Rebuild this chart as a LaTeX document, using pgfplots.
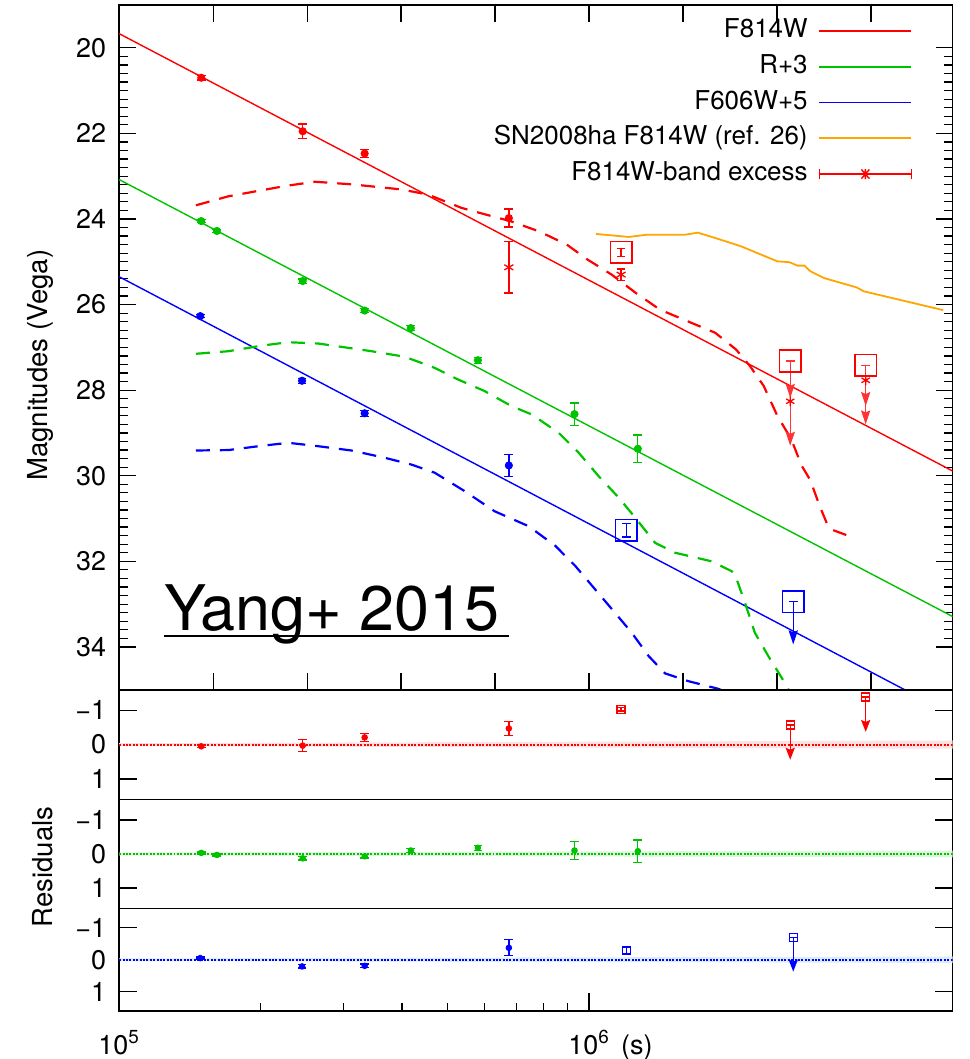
\documentclass[border=0pt]{standalone}
\usepackage{fontspec}
\setmainfont{TeX Gyre Heros}
\usepackage{pgfplots}
\pgfplotsset{compat=1.18}
\usetikzlibrary{arrows.meta}
\definecolor{cred}{RGB}{255,0,0}
\definecolor{cgreen}{RGB}{0,195,0}
\definecolor{cblue}{RGB}{0,0,255}
\definecolor{corange}{RGB}{255,165,0}
\definecolor{cpink}{RGB}{255,225,225}
\definecolor{clgreen}{RGB}{222,245,222}
\definecolor{clblue}{RGB}{220,238,248}
\pgfplotsset{
  dat/.style={only marks, mark=*, mark size=#1, line width=0.65pt,
    error bars/y dir=both, error bars/y explicit,
    error bars/error mark options={rotate=90, mark size=2.2pt, line width=0.65pt},
    error bars/error bar style={line width=0.65pt}},
  ulim/.style={only marks, mark=-, mark size=2.2pt, line width=0.7pt,
    error bars/y dir=plus, error bars/y explicit, error bars/error mark=none,
    error bars/error bar style={line width=0.7pt, -{Stealth[length=#1,width=4.6pt,inset=1pt]}}},
}
\begin{document}
\begin{tikzpicture}
% ================= MAIN PANEL =================
\begin{axis}[
  scale only axis, xmode=log, xmin=1e5, xmax=5.94e6, width=417.5pt,
  /pgf/number format/assume math mode=true,
  tick align=inside,
  tick style={black, line width=0.6pt},
  axis line style={line width=0.8pt},
  tick label style={font=\fontsize{13.5}{16}\selectfont},
  yticklabel style={xshift=-3pt},
  major tick length=8.5pt, minor tick length=4.2pt,
  y dir=reverse,
  at={(59.7pt,-2.5pt)}, anchor=north west, height=343pt,
  ymin=19, ymax=35,
  ytick={20,22,...,34}, minor y tick num=9,
  xtick pos=both, ytick pos=both, yticklabel pos=left,
  xticklabels={},
  ylabel={Magnitudes (Vega)},
  ylabel style={at={(axis description cs:-0.095,0.474)}, anchor=center, font=\fontsize{13.8}{16}\selectfont},
  legend cell align=right, legend plot pos=right,
  legend image code/.code={\draw[#1] (0pt,0pt) -- (46pt,0pt);},
  legend style={at={(axis description cs:0.952,0.985)}, anchor=north east,
    draw=none, fill=none, inner sep=0pt,
    font=\fontsize{13}{15}\selectfont,
    nodes={inner sep=1.5pt, text height=9.5pt, text depth=3pt},
    row sep=2.4pt, column sep=4pt},
]
% fit lines
\addplot[cred, line width=0.7pt, forget plot] coordinates {(1e5,19.67) (5.94e6,29.89)};
\addplot[cgreen, line width=0.7pt, forget plot] coordinates {(1e5,23.08) (5.94e6,33.29)};
\addplot[cblue, line width=0.7pt, forget plot] coordinates {(1e5,25.35) (5.94e6,35.59)};
% SN2008ha
\addplot[corange, line width=0.9pt, forget plot] table {
t m
1.035e6 24.35
1.216e6 24.42
1.323e6 24.37
1.594e6 24.37
1.705e6 24.32
1.888e6 24.47
2.108e6 24.64
2.516e6 24.99
2.670e6 25.01
2.776e6 25.09
2.873e6 25.09
2.956e6 25.22
3.162e6 25.38
3.713e6 25.60
3.842e6 25.69
5.670e6 26.13
};
% model curves (dashed)
\addplot[cred, line width=1.1pt, dash pattern=on 7pt off 5pt, forget plot] table {
t m
1.457e5 23.68
1.708e5 23.47
2.254e5 23.23
2.61e5 23.13
3.12e5 23.19
3.99e5 23.31
4.54e5 23.43
5.35e5 23.74
6.09e5 23.91
6.8e5 24.05
7.83e5 24.29
8.97e5 24.60
9.93e5 24.95
1.117e6 25.30
1.258e6 25.73
1.416e6 26.12
1.621e6 26.39
1.856e6 26.66
2.055e6 27.05
2.198e6 27.43
2.353e6 27.90
2.516e6 28.60
2.692e6 29.14
2.833e6 29.76
2.956e6 30.10
3.097e6 30.71
3.226e6 31.18
3.305e6 31.27
3.616e6 31.43
};
\addplot[cgreen, line width=1.1pt, dash pattern=on 7pt off 5pt, forget plot] table {
t m
1.457e5 27.15
1.708e5 27.09
2.01e5 26.96
2.29e5 26.88
2.653e5 26.91
3.443e5 27.09
4.055e5 27.22
4.694e5 27.48
5.26e5 27.75
5.99e5 28.02
6.83e5 28.37
7.56e5 28.57
8.62e5 29.00
9.50e5 29.46
1.048e6 30.01
1.156e6 30.51
1.254e6 30.98
1.383e6 31.57
1.525e6 31.80
1.823e6 32.00
2.011e6 32.23
2.045e6 32.31
2.147e6 32.97
2.254e6 33.67
2.406e6 34.21
2.61e6 34.84
2.75e6 35.3
};
\addplot[cblue, line width=1.1pt, dash pattern=on 7pt off 5pt, forget plot] table {
t m
1.457e5 29.41
1.708e5 29.40
1.979e5 29.31
2.29e5 29.23
2.653e5 29.31
3.12e5 29.41
3.676e5 29.58
4.19e5 29.74
4.694e5 29.93
5.436e5 30.36
6.295e5 30.83
7.44e5 31.18
8.48e5 31.64
9.35e5 32.11
1.031e6 32.66
1.119e6 33.12
1.233e6 33.67
1.338e6 34.21
1.452e6 34.62
1.627e6 34.80
1.885e6 34.98
2.1e6 35.2
};
% data points
\addplot[cred, dat=1.7pt, forget plot] table[x=t, y=m, y error=e] {
t m e
1.495e5 20.70 0.05
2.458e5 21.95 0.17
3.33e5 22.47 0.10
6.75e5 23.98 0.21
};
\addplot[cgreen, dat=1.7pt, forget plot] table[x=t, y=m, y error=e] {
t m e
1.495e5 24.05 0.04
1.614e5 24.28 0.04
2.458e5 25.45 0.05
3.33e5 26.14 0.04
4.175e5 26.55 0.06
5.80e5 27.30 0.07
9.31e5 28.56 0.26
1.27e6 29.37 0.32
};
\addplot[cblue, dat=1.7pt, forget plot] table[x=t, y=m, y error=e] {
t m e
1.488e5 26.27 0.04
2.45e5 27.78 0.06
3.33e5 28.54 0.07
6.75e5 29.76 0.25
};
% excess (asterisks)
\addplot[cred, dat=2.6pt, mark=asterisk, forget plot] table[x=t, y=m, y error=e] {
t m e
6.75e5 25.13 0.60
1.17e6 25.30 0.13
};
\addplot[cred, only marks, mark=asterisk, mark size=2.4pt, line width=0.65pt, forget plot] table {
t m
2.68e6 28.26
3.88e6 27.77
};
% squares (late-time points / limits)
\addplot[cred, dat=0pt, mark=none, forget plot] table[x=t, y=m, y error=e] {
t m e
1.17e6 24.78 0.09
};
\addplot[cred, only marks, mark=square, mark size=5.4pt, line width=0.8pt, forget plot] table {
t m
1.17e6 24.78
2.68e6 27.32
3.88e6 27.42
};
\addplot[cred!80, ulim=7pt, forget plot] table[x=t, y=m, y error=e] {
t m e
2.68e6 27.32 1.98
3.88e6 27.42 1.38
};
\addplot[cred!80, ulim=7pt, forget plot] table[x=t, y=m, y error=e] {
t m e
2.68e6 27.32 0.86
3.88e6 27.42 0.95
};
\addplot[cblue, dat=0pt, mark=none, forget plot] table[x=t, y=m, y error=e] {
t m e
1.20e6 31.27 0.16
};
\addplot[cblue, only marks, mark=square, mark size=5.4pt, line width=0.8pt, forget plot] table {
t m
1.20e6 31.27
2.72e6 32.94
};
\addplot[cblue, ulim=7pt, forget plot] table[x=t, y=m, y error=e] {
t m e
2.72e6 32.94 1.00
};
% legend
\addlegendimage{draw=cred, line width=0.7pt}
\addlegendentry{F814W}
\addlegendimage{draw=cgreen, line width=0.7pt}
\addlegendentry{R+3}
\addlegendimage{draw=cblue, line width=0.7pt}
\addlegendentry{F606W+5}
\addlegendimage{draw=corange, line width=0.9pt}
\addlegendentry{SN2008ha F814W (ref. 26)}
\addlegendimage{legend image code/.code={
  \draw[cred, line width=0.7pt] (0pt,0pt) -- (46pt,0pt);
  \draw[cred, line width=0.7pt] (0pt,-2.5pt) -- (0pt,2.5pt);
  \draw[cred, line width=0.7pt] (46pt,-2.5pt) -- (46pt,2.5pt);
  \draw[cred, line width=0.7pt] (21pt,-2.3pt) -- (25pt,2.3pt) (21pt,2.3pt) -- (25pt,-2.3pt) (23pt,-2.5pt) -- (23pt,2.5pt);}}
\addlegendentry{F814W-band excess}
\node[anchor=base west, inner sep=0pt, font=\fontsize{31.5}{36}\selectfont] at (axis description cs:0.0534,0.0864) {Yang+ 2015};
\draw[line width=1.25pt] (axis description cs:0.0534,0.0783) -- (axis description cs:0.4678,0.0783);
\end{axis}
% ================= RESIDUAL PANEL 1 (red) =================
\begin{axis}[
  scale only axis, xmode=log, xmin=1e5, xmax=5.94e6, width=417.5pt,
  /pgf/number format/assume math mode=true,
  tick align=inside,
  tick style={black, line width=0.6pt},
  axis line style={line width=0.8pt},
  tick label style={font=\fontsize{13.5}{16}\selectfont},
  yticklabel style={xshift=-3pt},
  y dir=reverse,
  at={(59.7pt,-345.5pt)}, anchor=north west, height=55pt,
  ymin=-1.6, ymax=1.6, ytick={-1,0,1}, yticklabels={−1,0,1},
  minor y tick num=0, ytick pos=both, yticklabel pos=left,
  xtick=\empty, xminorticks=false, major tick length=9pt,
]
\addplot[fill=cpink, draw=none] coordinates {(1e5,-0.04) (5.94e6,-0.12) (5.94e6,0.12) (1e5,0.04) (1e5,-0.04)};
\addplot[cred, line width=1pt, dash pattern=on 1pt off 0.7pt] coordinates {(1e5,0) (5.94e6,0)};
\addplot[cred, dat=1.3pt] table[x=t, y=r, y error=e] {
t r e
1.495e5 0.05 0.03
2.458e5 0.03 0.17
3.33e5 -0.21 0.11
6.75e5 -0.47 0.21
};
\addplot[cred, dat=0pt, mark=none] table[x=t, y=r, y error=e] {
t r e
1.17e6 -1.03 0.05
};
\addplot[cred, only marks, mark=square, mark size=2pt, line width=0.7pt] table {
t r
1.17e6 -1.03
2.68e6 -0.57
3.88e6 -1.39
};
\addplot[cred, ulim=6pt] table[x=t, y=r, y error=e] {
t r e
2.68e6 -0.57 1.01
3.88e6 -1.39 1.02
};
\end{axis}
% ================= RESIDUAL PANEL 2 (green) =================
\begin{axis}[
  scale only axis, xmode=log, xmin=1e5, xmax=5.94e6, width=417.5pt,
  /pgf/number format/assume math mode=true,
  tick align=inside,
  tick style={black, line width=0.6pt},
  axis line style={line width=0.8pt},
  tick label style={font=\fontsize{13.5}{16}\selectfont},
  yticklabel style={xshift=-3pt},
  y dir=reverse,
  at={(59.7pt,-400.5pt)}, anchor=north west, height=54.5pt,
  ymin=-1.6, ymax=1.6, ytick={-1,0,1}, yticklabels={−1,0,1},
  minor y tick num=0, ytick pos=both, yticklabel pos=left,
  xtick=\empty, xminorticks=false, major tick length=9pt,
  ylabel={Residuals},
  ylabel style={at={(axis description cs:-0.0922,0.38)}, anchor=center, font=\fontsize{13.8}{16}\selectfont},
]
\addplot[fill=clgreen, draw=none] coordinates {(1e5,-0.04) (5.94e6,-0.1) (5.94e6,0.1) (1e5,0.04) (1e5,-0.04)};
\addplot[cgreen, line width=1pt, dash pattern=on 1pt off 0.7pt] coordinates {(1e5,0) (5.94e6,0)};
\addplot[cgreen, dat=1.3pt] table[x=t, y=r, y error=e] {
t r e
1.495e5 -0.03 0.03
1.614e5 0.03 0.03
2.458e5 0.13 0.05
3.33e5 0.07 0.05
4.175e5 -0.10 0.05
5.80e5 -0.18 0.07
9.31e5 -0.10 0.27
1.27e6 -0.08 0.33
};
\end{axis}
% ================= RESIDUAL PANEL 3 (blue) =================
\begin{axis}[
  scale only axis, xmode=log, xmin=1e5, xmax=5.94e6, width=417.5pt,
  /pgf/number format/assume math mode=true,
  tick align=inside,
  tick style={black, line width=0.6pt},
  axis line style={line width=0.8pt},
  tick label style={font=\fontsize{13.5}{16}\selectfont},
  yticklabel style={xshift=-3pt},
  y dir=reverse,
  at={(59.7pt,-455pt)}, anchor=north west, height=51.5pt,
  ymin=-1.6, ymax=1.6, ytick={-1,0,1}, yticklabels={−1,0,1},
  minor y tick num=0, ytick pos=both, yticklabel pos=left,
  xtick={1e5,1e6}, xticklabels={10\textsuperscript{5},10\textsuperscript{6}},
  xtick pos=bottom, major tick length=9pt, minor tick length=4pt,
  xticklabel style={anchor=base, yshift=-21.5pt},
  xlabel={(s)},
  xlabel style={at={(axis description cs:0.621,0)}, anchor=base, yshift=-21.5pt, font=\fontsize{13.5}{16}\selectfont},
]
\addplot[fill=clblue, draw=none] coordinates {(1e5,-0.04) (5.94e6,-0.1) (5.94e6,0.1) (1e5,0.04) (1e5,-0.04)};
\addplot[cblue, line width=1pt, dash pattern=on 1pt off 0.7pt] coordinates {(1e5,0) (5.94e6,0)};
\addplot[cblue, dat=1.3pt] table[x=t, y=r, y error=e] {
t r e
1.488e5 -0.05 0.03
2.45e5 0.21 0.05
3.33e5 0.19 0.06
6.75e5 -0.37 0.25
};
\addplot[cblue, dat=0pt, mark=none] table[x=t, y=r, y error=e] {
t r e
1.20e6 -0.29 0.10
};
\addplot[cblue, only marks, mark=square, mark size=2pt, line width=0.7pt] table {
t r
1.20e6 -0.29
2.72e6 -0.70
};
\addplot[cblue, ulim=6pt] table[x=t, y=r, y error=e] {
t r e
2.72e6 -0.70 1.07
};
\end{axis}
\pgfresetboundingbox
\path (0pt,0pt) rectangle (485.5pt,-530.5pt);
\end{tikzpicture}
\end{document}
